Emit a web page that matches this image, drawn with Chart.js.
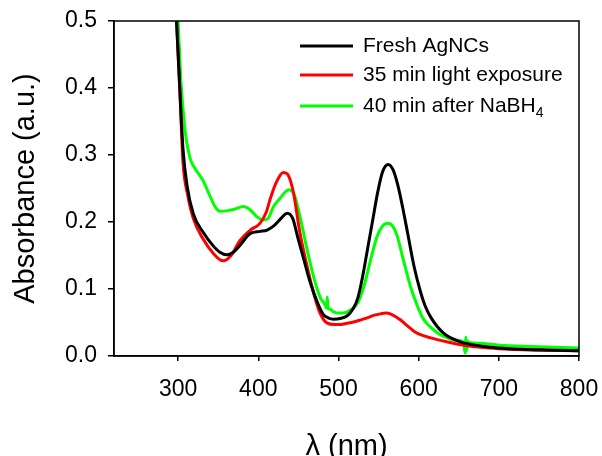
<!DOCTYPE html>
<html>
<head>
<meta charset="utf-8">
<script src="https://cdn.jsdelivr.net/npm/chart.js@4"></script>
<style>
  html, body { margin: 0; padding: 0; background: #fff; }
  #wrap { width: 602px; height: 456px; }
</style>
</head>
<body>
<div id="wrap"><canvas id="grafico" width="602" height="456"></canvas></div>
<script>
// series labels
const rotulos = ['Fresh AgNCs', '35 min light exposure', '40 min after NaBH\u2084'];
const cores = ['#000000', '#ff0000', '#00ff00'];

// Fresh AgNCs
const xFresh = [295, 298, 302, 306, 311, 319, 331, 344, 352, 361, 370, 377, 390, 402, 411, 420, 428, 436, 443, 449, 457, 465, 474, 481, 487, 494, 502, 511, 518, 524, 530, 536, 543, 549, 555, 562, 568, 574, 580, 586, 594, 602, 608, 615, 631, 652, 677, 700, 730, 760, 800];
const yFresh = [0.56, 0.50, 0.40, 0.31, 0.255, 0.212, 0.185, 0.164, 0.155, 0.151, 0.156, 0.165, 0.183, 0.186, 0.188, 0.195, 0.205, 0.213, 0.205, 0.178, 0.143, 0.109, 0.079, 0.062, 0.057, 0.055, 0.056, 0.060, 0.070, 0.086, 0.118, 0.158, 0.205, 0.245, 0.275, 0.286, 0.278, 0.255, 0.222, 0.185, 0.135, 0.097, 0.075, 0.058, 0.034, 0.021, 0.015, 0.012, 0.010, 0.009, 0.008];

// 35 min light exposure
const xLuz = [295, 298, 302, 306, 312, 319, 331, 344, 356, 366, 377, 390, 402, 410, 415, 422, 431, 436, 440, 444, 452, 461, 469, 477, 486, 495, 503, 511, 520, 528, 536, 545, 553, 559, 566, 577, 586, 594, 604, 615, 636, 656, 677, 700, 740, 800];
const yLuz = [0.56, 0.50, 0.40, 0.29, 0.24, 0.205, 0.175, 0.153, 0.142, 0.150, 0.172, 0.188, 0.198, 0.215, 0.235, 0.258, 0.274, 0.272, 0.262, 0.243, 0.183, 0.133, 0.094, 0.064, 0.049, 0.047, 0.047, 0.049, 0.051, 0.054, 0.057, 0.061, 0.063, 0.064, 0.062, 0.054, 0.045, 0.037, 0.031, 0.027, 0.021, 0.016, 0.013, 0.011, 0.009, 0.008];

// 40 min after NaBH4
const xBoro = [298, 300, 303, 306, 309, 315, 321, 331, 340, 346, 352, 362, 370, 381, 390, 398, 406, 412, 419, 427, 433, 438, 445, 452, 461, 469, 477, 483, 485, 486, 487, 489, 494, 500, 506, 514, 524, 532, 540, 548, 555, 562, 568, 573, 581, 590, 599, 606, 615, 624, 636, 644, 656, 658, 659, 660, 661, 663, 677, 700, 740, 800];
const yBoro = [0.56, 0.50, 0.42, 0.37, 0.333, 0.295, 0.280, 0.262, 0.238, 0.223, 0.216, 0.217, 0.219, 0.223, 0.218, 0.208, 0.203, 0.205, 0.223, 0.235, 0.244, 0.248, 0.240, 0.208, 0.158, 0.118, 0.088, 0.077, 0.072, 0.088, 0.070, 0.070, 0.066, 0.064, 0.064, 0.068, 0.079, 0.105, 0.143, 0.178, 0.194, 0.198, 0.193, 0.180, 0.143, 0.103, 0.073, 0.055, 0.043, 0.034, 0.027, 0.024, 0.021, 0.004, 0.028, 0.008, 0.022, 0.020, 0.019, 0.016, 0.014, 0.012];

const fonte = "'Liberation Sans', Arial, sans-serif";

function pares(xs, ys) {
    return xs.map((x, i) => ({ x: x, y: ys[i] }));
}

// caixa em volta da area do grafico + legenda dentro
const molduraLegenda = {
    id: 'molduraLegenda',
    afterDraw(chart) {
        const ctx = chart.ctx;
        const a = chart.chartArea;
        ctx.save();
        ctx.strokeStyle = '#000';
        ctx.lineWidth = 1.5;
        ctx.strokeRect(a.left, a.top, a.right - a.left, a.bottom - a.top);

        const linhasY = [46, 75, 106];
        ctx.font = '21px ' + fonte;
        ctx.textBaseline = 'middle';
        chart.data.datasets.forEach((ds, i) => {
            const y = linhasY[i];
            ctx.strokeStyle = ds.borderColor;
            ctx.lineWidth = 3;
            ctx.beginPath();
            ctx.moveTo(300, y);
            ctx.lineTo(353, y);
            ctx.stroke();
            ctx.fillStyle = '#000';
            let txt = ds.label;
            if (txt.endsWith('\u2084')) {
                const base = txt.slice(0, -1);
                ctx.fillText(base, 363, y);
                const w = ctx.measureText(base).width;
                ctx.font = '14px ' + fonte;
                ctx.fillText('4', 363 + w, y + 7);
                ctx.font = '21px ' + fonte;
            } else {
                ctx.fillText(txt, 363, y);
            }
        });
        ctx.restore();
    }
};

const series = [pares(xFresh, yFresh), pares(xLuz, yLuz), pares(xBoro, yBoro)];

new Chart(document.getElementById('grafico').getContext('2d'), {
    type: 'line',
    data: {
        datasets: series.map((d, i) => ({
            label: rotulos[i],
            data: d,
            borderColor: cores[i],
            borderWidth: 3,
            pointRadius: 0,
            fill: false,
            cubicInterpolationMode: 'monotone'
        }))
    },
    options: {
        responsive: false,
        animation: false,
        layout: { padding: { top: 21, right: 23, left: 0, bottom: 0 } },
        plugins: { legend: { display: false }, tooltip: { enabled: false } },
        scales: {
            x: {
                type: 'linear',
                min: 220,
                max: 800,
                afterFit(s) { s.height = 100; s.paddingRight = 0; s.paddingLeft = 0; },
                grid: { display: true, drawOnChartArea: false, drawTicks: true, tickLength: 5, color: '#000', lineWidth: 1.5 },
                border: { display: true, color: '#000', width: 1.5 },
                ticks: { stepSize: 100, includeBounds: false, color: '#000', padding: 15, maxRotation: 0, font: { family: fonte, size: 23 } },
                title: { display: true, text: '\u03bb (nm)', color: '#000', font: { family: fonte, size: 29, lineHeight: 1 }, padding: { top: 0, bottom: -5 } }
            },
            y: {
                min: 0,
                max: 0.5,
                afterFit(s) { s.width = 114; s.paddingTop = 0; s.paddingBottom = 0; },
                grid: { display: true, drawOnChartArea: false, drawTicks: true, tickLength: 6, color: '#000', lineWidth: 1.5 },
                border: { display: true, color: '#000', width: 1.5 },
                ticks: { stepSize: 0.1, color: '#000', padding: 11, font: { family: fonte, size: 23 }, callback: v => v.toFixed(1) },
                title: { display: true, text: 'Absorbance (a.u.)', color: '#000', font: { family: fonte, size: 29, lineHeight: 1 }, padding: { top: 11, bottom: 0 } }
            }
        }
    },
    plugins: [molduraLegenda]
});
</script>
</body>
</html>
